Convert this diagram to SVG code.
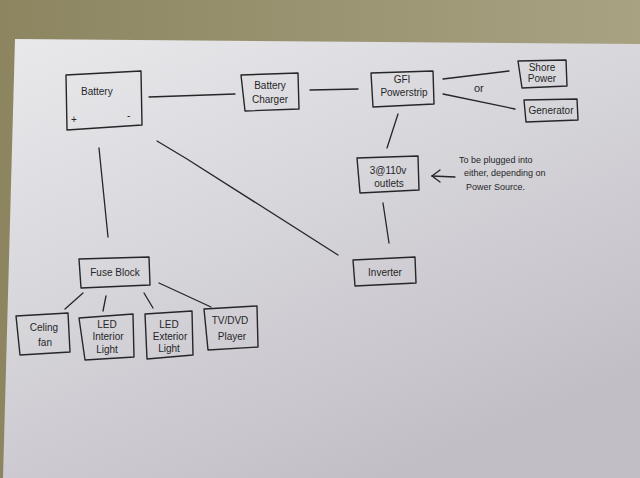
<svg xmlns="http://www.w3.org/2000/svg" width="640" height="478" viewBox="0 0 640 478">
<defs>
<linearGradient id="paper" x1="0" y1="0" x2="0.6" y2="1">
<stop offset="0" stop-color="#e9e9ec"/>
<stop offset="0.5" stop-color="#d6d5da"/>
<stop offset="1" stop-color="#c2bec6"/>
</linearGradient>
<linearGradient id="wall" x1="0" y1="0" x2="1" y2="0">
<stop offset="0" stop-color="#8c8560"/>
<stop offset="1" stop-color="#a8a283"/>
</linearGradient>
<style>
.b{fill:none;stroke:#262628;stroke-width:1.4;stroke-linejoin:round}
.c{fill:none;stroke:#262628;stroke-width:1.3;stroke-linecap:round}
text{font-family:"Liberation Sans","DejaVu Sans",sans-serif;font-size:10px;fill:#262628}
.m{text-anchor:middle}
</style>
</defs>
<rect width="640" height="478" fill="url(#wall)"/>
<polygon points="15,39 640,44 640,478 3,478" fill="url(#paper)"/>
<g id="connectors">
<path class="c" d="M149,97 L235,94"/>
<path class="c" d="M310,90 L358,89"/>
<path class="c" d="M443,79 L509,71"/>
<path class="c" d="M443,94 L515,109"/>
<path class="c" d="M398,114 L387,148"/>
<path class="c" d="M383,203 L389,243"/>
<path class="c" d="M99,148 L108,237"/>
<path class="c" d="M157,141 L187,159 L338,255"/>
<path class="c" d="M83,293 L65,309"/>
<path class="c" d="M106,296 L103,311"/>
<path class="c" d="M144,293 L153,308"/>
<path class="c" d="M159,283 L211,307"/>
<path class="c" d="M455,177 L432,176"/>
<path class="c" d="M440,170 L432,176 L440,182"/>
</g>
<g id="battery">
<polygon class="b" points="66,75 141,71 142,125 67,130"/>
<text x="81" y="95">Battery</text>
<text x="71" y="123">+</text>
<text x="127" y="119">-</text>
</g>
<g id="charger">
<polygon class="b" points="241,75 298,73 299,109 245,111"/>
<text class="m" x="270" y="89">Battery</text>
<text class="m" x="270" y="103">Charger</text>
</g>
<g id="gfi">
<polygon class="b" points="371,73 433,71 434,104 373,107"/>
<text class="m" x="402" y="83">GFI</text>
<text class="m" x="404" y="96">Powerstrip</text>
</g>
<g id="shore">
<polygon class="b" points="518,61 566,60 567,86 522,88"/>
<text class="m" x="542" y="71">Shore</text>
<text class="m" x="542" y="82">Power</text>
</g>
<g id="generator">
<polygon class="b" points="524,100 577,99 578,120 526,122"/>
<text class="m" x="551" y="114">Generator</text>
</g>
<text x="474" y="92" style="font-size:11px">or</text>
<g id="outlets">
<polygon class="b" points="357,158 418,156 419,190 360,193"/>
<text class="m" x="388" y="174">3@110v</text>
<text class="m" x="389" y="187">outlets</text>
</g>
<g id="note">
<text x="459" y="163" style="font-size:9px">To be plugged into</text>
<text x="464" y="176" style="font-size:9px">either, depending on</text>
<text x="466" y="190" style="font-size:9px">Power Source.</text>
</g>
<g id="inverter">
<polygon class="b" points="353,260 415,257 416,283 355,286"/>
<text class="m" x="385" y="276">Inverter</text>
</g>
<g id="fuse">
<polygon class="b" points="79,259 149,257 150,285 81,288"/>
<text class="m" x="115" y="276">Fuse Block</text>
</g>
<g id="fan">
<polygon class="b" points="16,316 68,313 70,352 20,355"/>
<text class="m" x="44" y="331">Celing</text>
<text class="m" x="45" y="346">fan</text>
</g>
<g id="interior">
<polygon class="b" points="79,318 133,314 134,357 85,360"/>
<text class="m" x="107" y="328">LED</text>
<text class="m" x="108" y="340">Interior</text>
<text class="m" x="107" y="353">Light</text>
</g>
<g id="exterior">
<polygon class="b" points="145,314 192,311 193,355 147,359"/>
<text class="m" x="169" y="328">LED</text>
<text class="m" x="170" y="340">Exterior</text>
<text class="m" x="169" y="352">Light</text>
</g>
<g id="tvdvd">
<polygon class="b" points="204,309 257,306 258,347 208,350"/>
<text class="m" x="230" y="324">TV/DVD</text>
<text class="m" x="232" y="340">Player</text>
</g>
</svg>
